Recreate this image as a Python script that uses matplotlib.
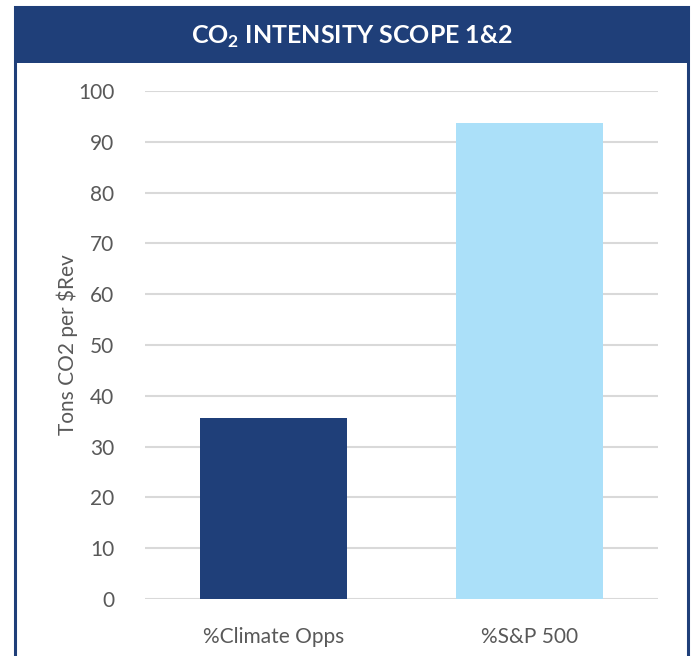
import matplotlib
matplotlib.use("Agg")
import matplotlib.pyplot as plt
from matplotlib.patches import Rectangle

# data
categories = ["%Climate Opps", "%S&P 500"]
values = [35.6, 93.7]
bar_colors = ["#1F3F79", "#ABE0F9"]
y_ticks = [0, 10, 20, 30, 40, 50, 60, 70, 80, 90, 100]

navy = "#1F3F79"
text_gray = "#595959"

plt.rcParams["font.family"] = ["Lato", "DejaVu Sans"]

W, H = 691, 656
fig = plt.figure(figsize=(W / 100, H / 100), dpi=100)

# outer frame and title band (pixel coords -> figure fraction)
def fx(px):
    return px / W

def fy(py):
    return 1 - py / H

frame = Rectangle((fx(15), fy(700)), fx(688) - fx(15), fy(7) - fy(700),
                  transform=fig.transFigure, fill=False, edgecolor=navy,
                  linewidth=2.2, zorder=0)
band = Rectangle((fx(15), fy(63)), fx(688) - fx(15), fy(7) - fy(63),
                 transform=fig.transFigure, facecolor=navy, edgecolor=navy,
                 linewidth=0, zorder=0)
fig.patches.extend([frame, band])

fig.text(fx(352), fy(37), r"CO$_\mathregular{2}$ INTENSITY SCOPE 1&2",
         color="white", fontsize=18, fontweight="bold",
         ha="center", va="center")

ax = fig.add_axes([fx(145), fy(599), fx(658) - fx(145), fy(91) - fy(599)])
x = range(len(categories))
ax.bar(x, values, width=0.573, color=bar_colors, zorder=3)

ax.set_xlim(-0.5, 1.5)
ax.set_ylim(0, 100)
ax.set_yticks(y_ticks)
ax.set_xticks(list(x))
ax.set_xticklabels(categories)
ax.yaxis.grid(True, color="#D9D9D9", linewidth=1.5, zorder=0)
ax.set_axisbelow(True)
for s in ax.spines.values():
    s.set_visible(False)
ax.tick_params(axis="both", length=0, labelsize=15, labelcolor=text_gray)
ax.tick_params(axis="y", pad=22)
ax.tick_params(axis="x", pad=20)
ax.set_ylabel("Tons CO2 per $Rev", fontsize=15, color=text_gray, labelpad=0)

fig.savefig("out.png", dpi=100)
